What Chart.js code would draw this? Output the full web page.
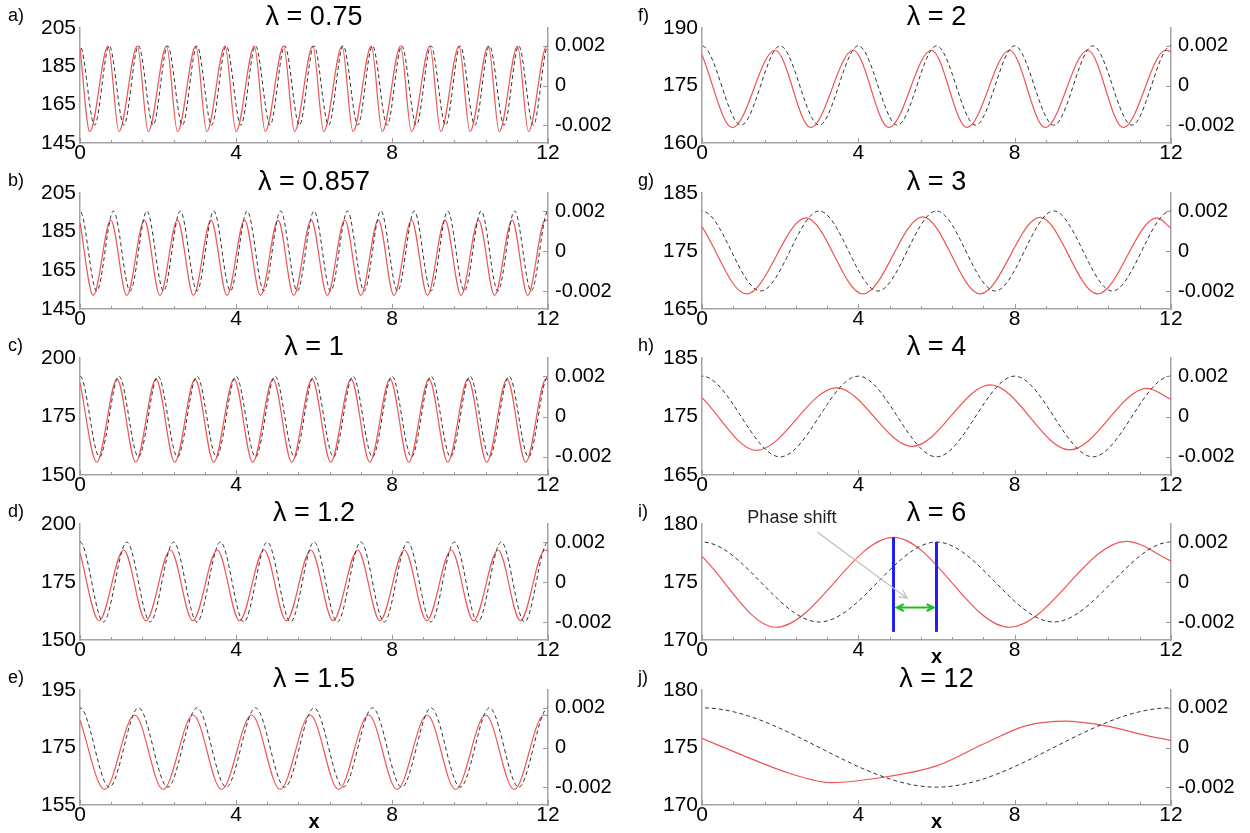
<!DOCTYPE html>
<html>
<head>
<meta charset="utf-8">
<script src="https://cdn.jsdelivr.net/npm/chart.js@4.4.1/dist/chart.umd.min.js"></script>
<style>
  body { margin: 0; background: #fff; width: 1250px; height: 833px; overflow: hidden; position: relative; }
  canvas { position: absolute; }
</style>
</head>
<body>
<script>
// ---- data ----
const lambdas = [0.75, 0.857, 1, 1.2, 1.5, 2, 3, 4, 6, 12];
const panelLetters = ["a)", "b)", "c)", "d)", "e)", "f)", "g)", "h)", "i)", "j)"];
const leftTicks = [
  [145, 165, 185, 205], [145, 165, 185, 205], [150, 175, 200], [150, 175, 200], [155, 175, 195],
  [160, 175, 190], [165, 175, 185], [165, 175, 185], [170, 175, 180], [170, 175, 180]
];
const rightTicks = [-0.002, 0, 0.002];
const rightRange = [-0.0029, 0.0029];
const xTicks = [0, 4, 8, 12];
const xMinorTicks = [0.8, 1.6, 2.4, 3.2, 4.8, 5.6, 6.4, 7.2, 8.8, 9.6, 10.4, 11.2];
const xTitlePanels = [4, 8, 9];

// red solid curves (left axis), [x, value]
const redA = [[0,194.5],[0.25,151],[0.72,195.5],[1.0,151],[1.47,195.5],[1.75,151],[2.22,195.5],[2.5,151],[2.97,195.5],[3.25,151],[3.72,195.5],[4.0,151],[4.47,195.5],[4.75,151],[5.22,195.5],[5.5,151],[5.97,195.5],[6.25,151],[6.72,195.5],[7.0,151],[7.47,195.5],[7.75,151],[8.22,195.5],[8.5,151],[8.97,195.5],[9.25,151],[9.72,195.5],[10.0,151],[10.47,195.5],[10.75,151],[11.22,195.5],[11.5,151],[11.97,195.5],[12,195.3]];
const redB = [[0,189.5],[0.34,152],[0.79,191],[1.2,152],[1.65,191],[2.05,152],[2.5,191],[2.91,152],[3.36,191],[3.77,152],[4.22,191],[4.63,152],[5.08,191],[5.48,152],[5.93,191],[6.34,152],[6.79,191],[7.2,152],[7.65,191],[8.05,152],[8.5,191],[8.91,152],[9.36,191],[9.77,152],[10.22,191],[10.63,152],[11.08,191],[11.48,152],[11.93,191],[12,190.6]];
const redC = [[0,189.5],[0.43,155.5],[0.95,191],[1.43,155.5],[1.95,191],[2.43,155.5],[2.95,191],[3.43,155.5],[3.95,191],[4.43,155.5],[4.95,191],[5.43,155.5],[5.95,191],[6.43,155.5],[6.95,191],[7.43,155.5],[7.95,191],[8.43,155.5],[8.95,191],[9.43,155.5],[9.95,191],[10.43,155.5],[10.95,191],[11.43,155.5],[11.95,191],[12,190.8]];
const redD = [[0,187.5],[0.49,158.3],[1.12,188.8],[1.69,158.3],[2.32,188.8],[2.89,158.3],[3.52,188.8],[4.09,158.3],[4.72,188.8],[5.29,158.3],[5.92,188.8],[6.49,158.3],[7.12,188.8],[7.69,158.3],[8.32,188.8],[8.89,158.3],[9.52,188.8],[10.09,158.3],[10.72,188.8],[11.29,158.3],[11.92,188.8],[12,188.5]];
const redE = [[0,184.5],[0.63,160.4],[1.4,186.3],[2.13,160.4],[2.9,186.3],[3.63,160.4],[4.4,186.3],[5.13,160.4],[5.9,186.3],[6.63,160.4],[7.4,186.3],[8.13,160.4],[8.9,186.3],[9.63,160.4],[10.4,186.3],[11.13,160.4],[11.9,186.3],[12,186.0]];
const redF = [[0,183],[0.78,164],[1.87,184.2],[2.78,164],[3.87,184.2],[4.78,164],[5.87,184.2],[6.78,164],[7.87,184.2],[8.78,164],[9.87,184.2],[10.78,164],[11.87,184.2],[12,183.8]];
const redG = [[0,179.2],[1.14,167.6],[2.66,180.7],[4.12,167.6],[5.65,180.9],[7.12,167.6],[8.65,180.8],[10.12,167.6],[11.64,180.7],[12,178.9]];
const redH = [[0,178.2],[1.39,169.2],[3.44,179.9],[5.38,169.9],[7.38,180.4],[9.41,169.3],[11.39,179.8],[12,177.9]];
const redI = [[0,177.2],[1.88,171.1],[4.9,178.85],[7.87,171.1],[10.86,178.5],[12,176.8]];
const redJ = [[0,175.8],[1.2,174.1],[2.2,172.8],[3.3,171.95],[4.8,172.5],[6.0,173.4],[7.2,175.3],[8.3,176.9],[9.3,177.3],[10.3,176.9],[11.3,176.1],[12,175.6]];

// black dashed curves (right axis), peaks and troughs, one step past each edge
const dashA = [[-0.375,-0.002],[0,0.002],[0.375,-0.002],[0.75,0.002],[1.125,-0.002],[1.5,0.002],[1.875,-0.002],[2.25,0.002],[2.625,-0.002],[3,0.002],[3.375,-0.002],[3.75,0.002],[4.125,-0.002],[4.5,0.002],[4.875,-0.002],[5.25,0.002],[5.625,-0.002],[6,0.002],[6.375,-0.002],[6.75,0.002],[7.125,-0.002],[7.5,0.002],[7.875,-0.002],[8.25,0.002],[8.625,-0.002],[9,0.002],[9.375,-0.002],[9.75,0.002],[10.125,-0.002],[10.5,0.002],[10.875,-0.002],[11.25,0.002],[11.625,-0.002],[12,0.002],[12.375,-0.002]];
const dashB = [[-0.429,-0.002],[0,0.002],[0.429,-0.002],[0.857,0.002],[1.286,-0.002],[1.714,0.002],[2.143,-0.002],[2.571,0.002],[3.0,-0.002],[3.429,0.002],[3.857,-0.002],[4.286,0.002],[4.714,-0.002],[5.143,0.002],[5.571,-0.002],[6.0,0.002],[6.429,-0.002],[6.857,0.002],[7.286,-0.002],[7.714,0.002],[8.143,-0.002],[8.571,0.002],[9.0,-0.002],[9.429,0.002],[9.857,-0.002],[10.286,0.002],[10.714,-0.002],[11.143,0.002],[11.571,-0.002],[12,0.002],[12.429,-0.002]];
const dashC = [[-0.5,-0.002],[0,0.002],[0.5,-0.002],[1,0.002],[1.5,-0.002],[2,0.002],[2.5,-0.002],[3,0.002],[3.5,-0.002],[4,0.002],[4.5,-0.002],[5,0.002],[5.5,-0.002],[6,0.002],[6.5,-0.002],[7,0.002],[7.5,-0.002],[8,0.002],[8.5,-0.002],[9,0.002],[9.5,-0.002],[10,0.002],[10.5,-0.002],[11,0.002],[11.5,-0.002],[12,0.002],[12.5,-0.002]];
const dashD = [[-0.6,-0.002],[0,0.002],[0.6,-0.002],[1.2,0.002],[1.8,-0.002],[2.4,0.002],[3.0,-0.002],[3.6,0.002],[4.2,-0.002],[4.8,0.002],[5.4,-0.002],[6.0,0.002],[6.6,-0.002],[7.2,0.002],[7.8,-0.002],[8.4,0.002],[9.0,-0.002],[9.6,0.002],[10.2,-0.002],[10.8,0.002],[11.4,-0.002],[12,0.002],[12.6,-0.002]];
const dashE = [[-0.75,-0.002],[0,0.002],[0.75,-0.002],[1.5,0.002],[2.25,-0.002],[3,0.002],[3.75,-0.002],[4.5,0.002],[5.25,-0.002],[6,0.002],[6.75,-0.002],[7.5,0.002],[8.25,-0.002],[9,0.002],[9.75,-0.002],[10.5,0.002],[11.25,-0.002],[12,0.002],[12.75,-0.002]];
const dashF = [[-1,-0.002],[0,0.002],[1,-0.002],[2,0.002],[3,-0.002],[4,0.002],[5,-0.002],[6,0.002],[7,-0.002],[8,0.002],[9,-0.002],[10,0.002],[11,-0.002],[12,0.002],[13,-0.002]];
const dashG = [[-1.5,-0.002],[0,0.002],[1.5,-0.002],[3,0.002],[4.5,-0.002],[6,0.002],[7.5,-0.002],[9,0.002],[10.5,-0.002],[12,0.002],[13.5,-0.002]];
const dashH = [[-2,-0.002],[0,0.002],[2,-0.002],[4,0.002],[6,-0.002],[8,0.002],[10,-0.002],[12,0.002],[14,-0.002]];
const dashI = [[-3,-0.002],[0,0.002],[3,-0.002],[6,0.002],[9,-0.002],[12,0.002],[15,-0.002]];
const dashJ = [[-6,-0.002],[0,0.002],[6,-0.002],[12,0.002],[18,-0.002]];

const redCurves = [redA, redB, redC, redD, redE, redF, redG, redH, redI, redJ];
const dashCurves = [dashA, dashB, dashC, dashD, dashE, dashF, dashG, dashH, dashI, dashJ];

// phase-shift markup in panel i (data units)
const phaseText = "Phase shift";
const phaseTextAt = [2.3, 180.5];
const phasePointer = [[2.95, 179.3], [5.25, 173.6]];
const blueLines = [[4.9, 170.7, 178.85], [6.0, 170.7, 178.45]];
const greenArrow = [4.98, 5.93, 172.8];

// ---- layout ----
const FONT = '"Liberation Sans", Arial, Helvetica, sans-serif';
const canvasLeft = [0, 625];
const plotLeft = [80, 702];
const plotRight = [548, 1171];
const letterX = [8, 638];
const rowTop = [28, 193, 358, 524, 690];
const rowBottom = [143, 309, 475, 640, 805];
const padTop = 36, padBottom = 32, canvasW = 625;

function arrowHead(ctx, x0, y0, x1, y1, size) {
  const ang = Math.atan2(y1 - y0, x1 - x0);
  ctx.moveTo(x1 - size * Math.cos(ang - 0.45), y1 - size * Math.sin(ang - 0.45));
  ctx.lineTo(x1, y1);
  ctx.lineTo(x1 - size * Math.cos(ang + 0.45), y1 - size * Math.sin(ang + 0.45));
}

const decoPlugin = {
  id: "deco",
  afterDatasetsDraw(chart, args, o) {
    const { ctx, chartArea: a, scales } = chart;
    const xs = scales.x, ys = scales.y, y1 = scales.y1;
    ctx.save();
    // inward tick marks
    ctx.strokeStyle = "#9a9a9a";
    ctx.lineWidth = 1;
    ctx.beginPath();
    xMinorTicks.forEach((v) => {
      const px = Math.round(xs.getPixelForValue(v)) + 0.5;
      ctx.moveTo(px, a.bottom);
      ctx.lineTo(px, a.bottom - 3);
    });
    xTicks.forEach((v) => {
      const px = Math.round(xs.getPixelForValue(v)) + 0.5;
      ctx.moveTo(px, a.bottom);
      ctx.lineTo(px, a.bottom - 5);
    });
    rightTicks.forEach((v) => {
      const py = Math.round(y1.getPixelForValue(v)) + 0.5;
      ctx.moveTo(a.right, py);
      ctx.lineTo(a.right - 5, py);
    });
    ctx.stroke();

    // title and panel letter
    const cx = (a.left + a.right) / 2;
    ctx.fillStyle = "#000";
    ctx.textBaseline = "middle";
    ctx.textAlign = "center";
    ctx.font = "27px " + FONT;
    ctx.fillText("\u03bb = " + o.lambda, cx, a.top - 10);
    ctx.textAlign = "left";
    ctx.font = "18px " + FONT;
    ctx.fillText(o.letter, o.letterX, a.top - 12);

    if (o.xTitle) {
      ctx.textAlign = "center";
      ctx.font = "bold 20px " + FONT;
      ctx.fillText("x", cx, a.bottom + 17);
    }

    if (o.phase) {
      // pointer from the note
      ctx.strokeStyle = "#c4c4c4";
      ctx.lineWidth = 1.3;
      const p0x = xs.getPixelForValue(phasePointer[0][0]), p0y = ys.getPixelForValue(phasePointer[0][1]);
      const p1x = xs.getPixelForValue(phasePointer[1][0]), p1y = ys.getPixelForValue(phasePointer[1][1]);
      ctx.beginPath();
      ctx.moveTo(p0x, p0y);
      ctx.lineTo(p1x, p1y);
      arrowHead(ctx, p0x, p0y, p1x, p1y, 9);
      ctx.stroke();
      // green double arrow
      ctx.strokeStyle = "#1fbf1f";
      ctx.lineWidth = 2;
      const gx0 = xs.getPixelForValue(greenArrow[0]), gx1 = xs.getPixelForValue(greenArrow[1]);
      const gy = ys.getPixelForValue(greenArrow[2]);
      ctx.beginPath();
      ctx.moveTo(gx0, gy);
      ctx.lineTo(gx1, gy);
      arrowHead(ctx, gx0, gy, gx1, gy, 8);
      arrowHead(ctx, gx1, gy, gx0, gy, 8);
      ctx.stroke();
      // note text
      ctx.fillStyle = "#222";
      ctx.font = "18px " + FONT;
      ctx.textAlign = "center";
      ctx.fillText(phaseText, xs.getPixelForValue(phaseTextAt[0]), ys.getPixelForValue(phaseTextAt[1]));
    }
    ctx.restore();
  },
};

for (let i = 0; i < 10; i++) {
  const col = Math.floor(i / 5), row = i % 5;
  const cv = document.createElement("canvas");
  const h = rowBottom[row] - rowTop[row] + padTop + padBottom;
  cv.width = canvasW;
  cv.height = h;
  cv.style.left = canvasLeft[col] + "px";
  cv.style.top = rowTop[row] - padTop + "px";
  cv.style.width = canvasW + "px";
  cv.style.height = h + "px";
  document.body.appendChild(cv);

  const lt = leftTicks[i];
  const datasets = [];
  if (i === 8) {
    blueLines.forEach((b) => {
      datasets.push({
        data: [[b[0], b[1]], [b[0], b[2]]],
        yAxisID: "y",
        borderColor: "#2020f0",
        borderWidth: 3,
        pointRadius: 0,
        tension: 0,
      });
    });
  }
  datasets.push({
    label: "dashed",
    data: dashCurves[i],
    yAxisID: "y1",
    borderColor: "#333",
    borderWidth: 1,
    borderDash: [4, 3],
    pointRadius: 0,
    cubicInterpolationMode: "monotone",
  });
  datasets.push({
    label: "red",
    data: redCurves[i],
    yAxisID: "y",
    borderColor: "rgb(240,85,85)",
    borderWidth: 1.2,
    pointRadius: 0,
    cubicInterpolationMode: "monotone",
  });

  new Chart(cv.getContext("2d"), {
    type: "line",
    data: { datasets },
    options: {
      responsive: false,
      animation: false,
      devicePixelRatio: 1,
      layout: { padding: { top: padTop, left: 0, right: 0, bottom: 0 } },
      scales: {
        x: {
          type: "linear",
          min: 0,
          max: 12,
          afterBuildTicks: (ax) => { ax.ticks = xTicks.map((v) => ({ value: v })); },
          afterFit: (ax) => { ax.height = padBottom; },
          grid: { display: false, drawTicks: false },
          border: { display: true, color: "#a3a3a3", width: 1.5 },
          ticks: { padding: -2, autoSkip: false, maxRotation: 0, color: "#000", font: { family: FONT, size: 21 } },
        },
        y: {
          position: "left",
          min: lt[0],
          max: lt[lt.length - 1],
          afterBuildTicks: (ax) => { ax.ticks = lt.map((v) => ({ value: v })); },
          afterFit: (ax) => { ax.width = plotLeft[col] - canvasLeft[col]; },
          grid: { display: false, drawTicks: false },
          border: { display: true, color: "#a3a3a3", width: 1.5 },
          ticks: { padding: 4, color: "#000", font: { family: FONT, size: 21 } },
        },
        y1: {
          position: "right",
          min: rightRange[0],
          max: rightRange[1],
          afterBuildTicks: (ax) => { ax.ticks = rightTicks.map((v) => ({ value: v })); },
          afterFit: (ax) => { ax.width = canvasLeft[col] + canvasW - plotRight[col]; },
          grid: { display: false, drawTicks: false },
          border: { display: true, color: "#a3a3a3", width: 1.5 },
          ticks: {
            padding: 7,
            color: "#000",
            font: { family: FONT, size: 20 },
            callback: (v) => (v === 0 ? "0" : v.toFixed(3)),
          },
        },
      },
      plugins: {
        legend: { display: false },
        tooltip: { enabled: false },
        deco: {
          lambda: String(lambdas[i]),
          letter: panelLetters[i],
          letterX: letterX[col] - canvasLeft[col],
          xTitle: xTitlePanels.includes(i),
          phase: i === 8,
        },
      },
    },
    plugins: [decoPlugin],
  });
}
</script>
</body>
</html>
